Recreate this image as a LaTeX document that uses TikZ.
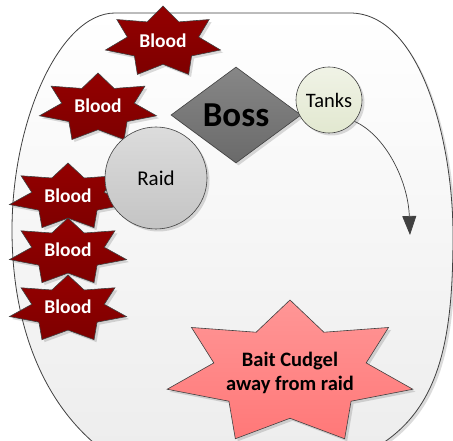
\documentclass[tikz,border=0pt]{standalone}
\usepackage{fontspec}
\setmainfont{Carlito}
\usetikzlibrary{shapes.geometric,shadows,arrows.meta,calc}

\definecolor{edge}{HTML}{404040}
\definecolor{bloodtop}{HTML}{940000}
\definecolor{bloodbot}{HTML}{7E0000}
\definecolor{baittop}{HTML}{FF9696}
\definecolor{baitbot}{HTML}{FF7878}
\definecolor{raidtop}{HTML}{DCDCDC}
\definecolor{raidbot}{HTML}{C4C4C4}
\definecolor{tanktop}{HTML}{F0F3E6}
\definecolor{tankbot}{HTML}{E2E8D0}
\definecolor{bosstop}{HTML}{878787}
\definecolor{bossbot}{HTML}{6A6A6A}
\definecolor{roomtop}{HTML}{FFFFFF}
\definecolor{roombot}{HTML}{EDEDED}

\tikzset{
  softshadow/.style={drop shadow={shadow xshift=2.5pt, shadow yshift=-2.5pt, opacity=0.14, fill=black}},
  room/.style={draw=edge, line width=0.8pt, top color=roomtop, bottom color=roombot},
  bloodstar/.style={draw=edge, line width=0.6pt, top color=bloodtop, bottom color=bloodbot, softshadow},
  baitstar/.style={draw=edge, line width=0.6pt, top color=baittop, bottom color=baitbot, softshadow},
  bloodtext/.style={text=white, font=\bfseries\fontsize{19.5}{22}\selectfont, inner sep=0pt},
  baittext/.style={text=black, font=\bfseries\fontsize{20.5}{24}\selectfont, align=center, inner sep=0pt},
  raidnode/.style={circle, draw=edge, line width=0.6pt, top color=raidtop, bottom color=raidbot,
    minimum size=102pt, inner sep=0pt, font=\fontsize{21}{24}\selectfont, softshadow},
  tanknode/.style={circle, draw=edge, line width=0.6pt, top color=tanktop, bottom color=tankbot,
    minimum size=66pt, inner sep=0pt, font=\fontsize{20.5}{24}\selectfont, softshadow},
  bossnode/.style={diamond, draw=edge, line width=0.6pt, top color=bosstop, bottom color=bossbot,
    minimum width=130pt, minimum height=96pt, aspect=1.35, inner sep=0pt,
    font=\bfseries\fontsize{35}{40}\selectfont, softshadow},
  flow/.style={draw=edge, line width=0.7pt, -{Triangle[length=19pt,width=14pt]}, fill=none},
}

% seven-pointed star stretched into an ellipse:
% #1 style, #2/#3 centre, #4/#5 horizontal/vertical outer radius
\newcommand\sevenstar[5]{%
  \path[#1] (#2,#3) ++(-90:#4 and #5)
    \foreach \i in {1,...,13}{
      -- ($(#2,#3)+({-90+\i*360/14}:{(1-0.38*mod(\i,2))*#4} and {(1-0.38*mod(\i,2))*#5})$)
    } -- cycle;%
}

\begin{document}
\begin{tikzpicture}[x=1pt, y=-1pt]
\useasboundingbox (0,0) rectangle (453,441);

% the arena
\begin{scope}
  \clip (0,0) rectangle (453,441);
  \path[room, softshadow] (115,13) -- (350,13)
    .. controls (420,13) and (453,140) .. (453,235)
    .. controls (453,340) and (440,410) .. (375,448)
    -- (100,448)
    .. controls (40,400) and (12,320) .. (12,230)
    .. controls (12,120) and (60,13) .. (115,13) -- cycle;
\end{scope}

% blood pools
\sevenstar{bloodstar}{163}{42}{59}{36}
\node[bloodtext] (blood1) at (163,41) {Blood};
\sevenstar{bloodstar}{98}{108}{60}{35}
\node[bloodtext] (blood2) at (98,106) {Blood};
\sevenstar{bloodstar}{68}{197}{60}{34}
\node[bloodtext] (blood3) at (68,196) {Blood};
\sevenstar{bloodstar}{68}{252}{60}{34}
\node[bloodtext] (blood4) at (68,250) {Blood};
\sevenstar{bloodstar}{68}{309}{60}{34}
\node[bloodtext] (blood5) at (68,307) {Blood};

% raid, boss and tanks
\node[raidnode] (raid) at (156,178) {Raid};
\node[bossnode] (boss) at (236,115) {Boss};
\node[tanknode] (tanks) at (329,100) {Tanks};

% tank movement
\coordinate (tankdest) at (410,235);
\draw[flow] (tanks.-40) .. controls (385,135) and (408,180) .. (tankdest);

% bait target
\sevenstar{baitstar}{290}{373}{126}{73}
\node[baittext] (bait) at (290,373) {Bait Cudgel\\away from raid};
\end{tikzpicture}
\end{document}
